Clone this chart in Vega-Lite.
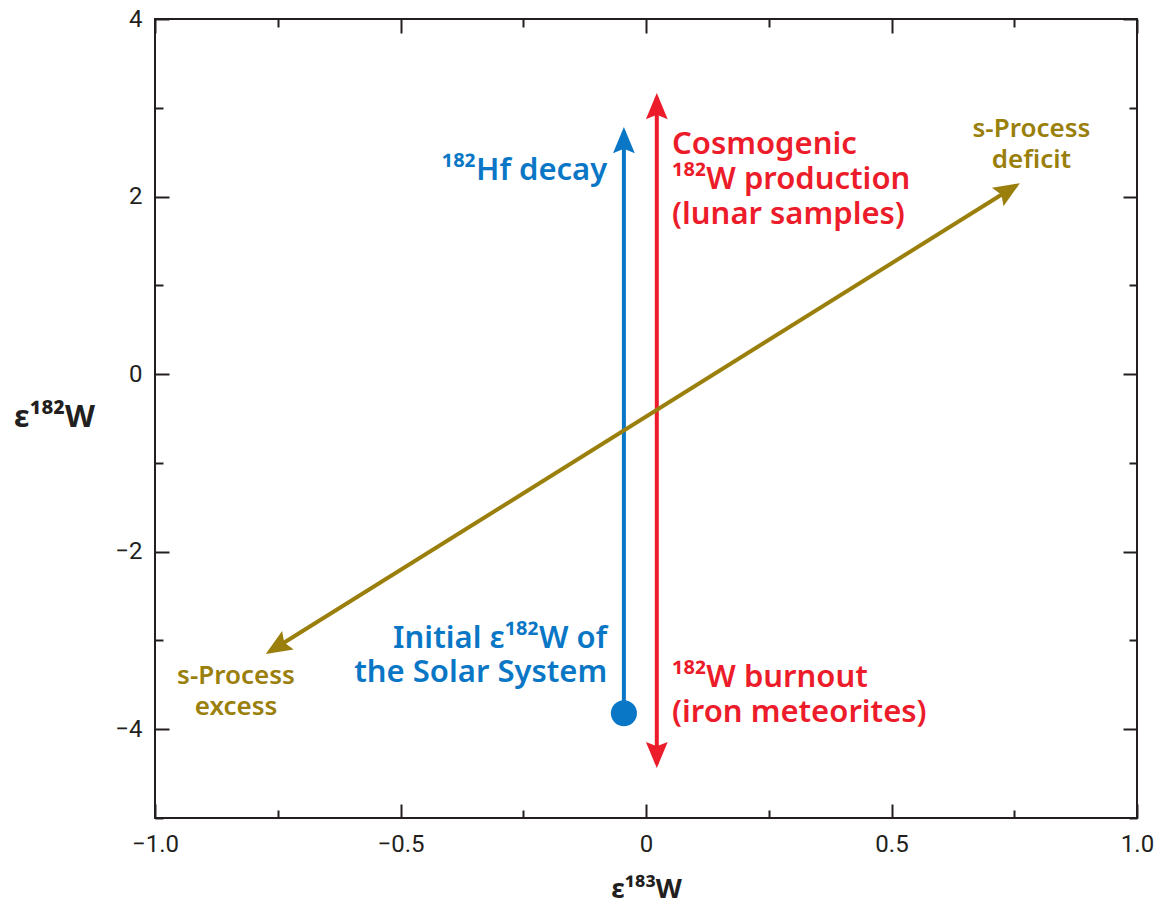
{
  "$schema": "https://vega.github.io/schema/vega-lite/v6.json",
  "width": 982,
  "height": 799,
  "autosize": "none",
  "padding": {"left": 155, "top": 19, "right": 31, "bottom": 90},
  "background": "white",
  "config": {
    "view": {"stroke": "#231f20", "strokeWidth": 2},
    "font": "Noto Sans"
  },
  "datasets": {
    "vectors": [
      {"effect": "182Hf decay", "x": -0.045, "y": -3.82, "x2": -0.045, "y2": 2.734},
      {"effect": "Cosmogenic 182W", "x": 0.022, "y": -4.389, "x2": 0.022, "y2": 3.117},
      {"effect": "s-Process", "x": -0.767, "y": -3.128, "x2": 0.754, "y2": 2.125}
    ],
    "notes": [
      {"effect": "182Hf decay", "side": "right", "x": -0.079, "y": 2.185, "text": ["¹⁸²Hf decay"]},
      {"effect": "182Hf decay", "side": "right", "x": -0.079, "y": -3.086, "text": ["Initial ε¹⁸²W of", "the Solar System"]},
      {"effect": "Cosmogenic 182W", "side": "left", "x": 0.053, "y": 2.478, "text": ["Cosmogenic", "¹⁸²W production", "(lunar samples)"]},
      {"effect": "Cosmogenic 182W", "side": "left", "x": 0.053, "y": -3.525, "text": ["¹⁸²W burnout", "(iron meteorites)"]},
      {"effect": "s-Process", "side": "center", "x": 0.785, "y": 2.67, "text": ["s-Process", "deficit"]},
      {"effect": "s-Process", "side": "center", "x": -0.835, "y": -3.49, "text": ["s-Process", "excess"]}
    ]
  },
  "resolve": {"axis": {"x": "independent", "y": "independent"}},
  "layer": [
    {
      "data": {"name": "vectors"},
      "mark": {"type": "rule", "strokeWidth": 4, "strokeCap": "butt"},
      "encoding": {
        "x": {
          "field": "x", "type": "quantitative",
          "scale": {"domain": [-1, 1], "nice": false, "zero": false},
          "axis": {
            "orient": "bottom",
            "values": [-1, -0.75, -0.5, -0.25, 0, 0.25, 0.5, 0.75, 1],
            "domain": false, "grid": false,
            "tickSize": {"condition": {"test": "abs(datum.value*2-round(datum.value*2))<0.001", "value": -14}, "value": -8},
            "tickWidth": 2, "tickColor": "#231f20",
            "labelExpr": "abs(datum.value*2-round(datum.value*2))<0.001 ? (datum.value==0 ? '0' : format(datum.value,'.1f')) : ''",
            "labelFont": "Roboto", "labelFontSize": 24, "labelColor": "#231f20",
            "labelPadding": 28, "labelFlush": false, "labelOverlap": false, "labelBaseline": "top",
            "title": "ε¹⁸³W", "titleFont": "Noto Sans", "titleFontWeight": "bold", "titleFontSize": 27,
            "titleColor": "#231f20", "titleX": 491, "titleY": 71, "titleAlign": "center", "titleBaseline": "middle"
          }
        },
        "y": {
          "field": "y", "type": "quantitative",
          "scale": {"domain": [-5, 4], "nice": false, "zero": false},
          "axis": {
            "orient": "left",
            "values": [-5, -4, -3, -2, -1, 0, 1, 2, 3, 4],
            "domain": false, "grid": false,
            "tickSize": {"condition": {"test": "datum.value % 2 == 0", "value": -14}, "value": -8},
            "tickWidth": 2, "tickColor": "#231f20",
            "labelExpr": "datum.value % 2 == 0 ? format(datum.value,'d') : ''",
            "labelFont": "Roboto", "labelFontSize": 24, "labelColor": "#231f20",
            "labelPadding": 27, "labelFlush": false, "labelOverlap": false, "labelBaseline": "middle",
            "title": "ε¹⁸²W", "titleFont": "Noto Sans", "titleFontWeight": "bold", "titleFontSize": 31,
            "titleColor": "#231f20", "titleAngle": 0, "titleX": -101, "titleY": 398,
            "titleAlign": "center", "titleBaseline": "middle"
          }
        },
        "x2": {"field": "x2"},
        "y2": {"field": "y2"},
        "color": {
          "field": "effect", "type": "nominal",
          "scale": {"domain": ["182Hf decay", "Cosmogenic 182W", "s-Process"], "range": ["#0a77c6", "#ec1c2a", "#9a7f0c"]},
          "legend": null
        }
      }
    },
    {
      "data": {"name": "vectors"},
      "transform": [{"filter": "datum.effect != 's-Process'"}],
      "mark": {"type": "point", "shape": "M0,-0.2L0.5,1L0,0.8L-0.5,1Z", "size": 1900, "filled": true, "opacity": 1, "angle": 0},
      "encoding": {
        "x": {
          "field": "x2", "type": "quantitative",
          "scale": {"domain": [-1, 1], "nice": false, "zero": false},
          "axis": {
            "orient": "top",
            "values": [-1, -0.75, -0.5, -0.25, 0, 0.25, 0.5, 0.75, 1],
            "domain": false, "grid": false, "labels": false, "title": null,
            "tickSize": {"condition": {"test": "abs(datum.value*2-round(datum.value*2))<0.001", "value": -14}, "value": -8},
            "tickWidth": 2, "tickColor": "#231f20"
          }
        },
        "y": {
          "field": "y2", "type": "quantitative",
          "scale": {"domain": [-5, 4], "nice": false, "zero": false},
          "axis": {
            "orient": "right",
            "values": [-5, -4, -3, -2, -1, 0, 1, 2, 3, 4],
            "domain": false, "grid": false, "labels": false, "title": null,
            "tickSize": {"condition": {"test": "datum.value % 2 == 0", "value": -14}, "value": -8},
            "tickWidth": 2, "tickColor": "#231f20"
          }
        },
        "color": {"field": "effect", "type": "nominal", "legend": null}
      }
    },
    {
      "data": {"name": "vectors"},
      "transform": [{"filter": "datum.effect == 'Cosmogenic 182W'"}],
      "mark": {"type": "point", "shape": "M0,-0.2L0.5,1L0,0.8L-0.5,1Z", "size": 1900, "filled": true, "opacity": 1, "angle": 180},
      "encoding": {
        "x": {"field": "x", "type": "quantitative", "scale": {"domain": [-1, 1], "nice": false, "zero": false}, "axis": null},
        "y": {"field": "y", "type": "quantitative", "scale": {"domain": [-5, 4], "nice": false, "zero": false}, "axis": null},
        "color": {"field": "effect", "type": "nominal", "legend": null}
      }
    },
    {
      "data": {"name": "vectors"},
      "transform": [{"filter": "datum.effect == 's-Process'"}],
      "mark": {"type": "point", "shape": "M0,-0.2L0.5,1L0,0.8L-0.5,1Z", "size": 1900, "filled": true, "opacity": 1, "angle": 58},
      "encoding": {
        "x": {"field": "x2", "type": "quantitative", "scale": {"domain": [-1, 1], "nice": false, "zero": false}, "axis": null},
        "y": {"field": "y2", "type": "quantitative", "scale": {"domain": [-5, 4], "nice": false, "zero": false}, "axis": null},
        "color": {"field": "effect", "type": "nominal", "legend": null}
      }
    },
    {
      "data": {"name": "vectors"},
      "transform": [{"filter": "datum.effect == 's-Process'"}],
      "mark": {"type": "point", "shape": "M0,-0.2L0.5,1L0,0.8L-0.5,1Z", "size": 1900, "filled": true, "opacity": 1, "angle": 238},
      "encoding": {
        "x": {"field": "x", "type": "quantitative", "scale": {"domain": [-1, 1], "nice": false, "zero": false}, "axis": null},
        "y": {"field": "y", "type": "quantitative", "scale": {"domain": [-5, 4], "nice": false, "zero": false}, "axis": null},
        "color": {"field": "effect", "type": "nominal", "legend": null}
      }
    },
    {
      "data": {"name": "vectors"},
      "transform": [{"filter": "datum.effect == '182Hf decay'"}],
      "mark": {"type": "point", "shape": "circle", "size": 680, "filled": true, "opacity": 1},
      "encoding": {
        "x": {"field": "x", "type": "quantitative", "scale": {"domain": [-1, 1], "nice": false, "zero": false}, "axis": null},
        "y": {"field": "y", "type": "quantitative", "scale": {"domain": [-5, 4], "nice": false, "zero": false}, "axis": null},
        "color": {"field": "effect", "type": "nominal", "legend": null}
      }
    },
    {
      "data": {"name": "notes"},
      "transform": [{"filter": "datum.side == 'right'"}],
      "mark": {"type": "text", "align": "right", "baseline": "alphabetic", "font": "Noto Sans", "fontWeight": 600, "fontSize": 31, "lineHeight": 34},
      "encoding": {
        "x": {"field": "x", "type": "quantitative", "scale": {"domain": [-1, 1], "nice": false, "zero": false}, "axis": null},
        "y": {"field": "y", "type": "quantitative", "scale": {"domain": [-5, 4], "nice": false, "zero": false}, "axis": null},
        "text": {"field": "text"},
        "color": {"field": "effect", "type": "nominal", "legend": null}
      }
    },
    {
      "data": {"name": "notes"},
      "transform": [{"filter": "datum.side == 'left'"}],
      "mark": {"type": "text", "align": "left", "baseline": "alphabetic", "font": "Noto Sans", "fontWeight": 600, "fontSize": 31, "lineHeight": 35},
      "encoding": {
        "x": {"field": "x", "type": "quantitative", "scale": {"domain": [-1, 1], "nice": false, "zero": false}, "axis": null},
        "y": {"field": "y", "type": "quantitative", "scale": {"domain": [-5, 4], "nice": false, "zero": false}, "axis": null},
        "text": {"field": "text"},
        "color": {"field": "effect", "type": "nominal", "legend": null}
      }
    },
    {
      "data": {"name": "notes"},
      "transform": [{"filter": "datum.side == 'center'"}],
      "mark": {"type": "text", "align": "center", "baseline": "alphabetic", "font": "Noto Sans", "fontWeight": 600, "fontSize": 26, "lineHeight": 31},
      "encoding": {
        "x": {"field": "x", "type": "quantitative", "scale": {"domain": [-1, 1], "nice": false, "zero": false}, "axis": null},
        "y": {"field": "y", "type": "quantitative", "scale": {"domain": [-5, 4], "nice": false, "zero": false}, "axis": null},
        "text": {"field": "text"},
        "color": {"field": "effect", "type": "nominal", "legend": null}
      }
    }
  ]
}
